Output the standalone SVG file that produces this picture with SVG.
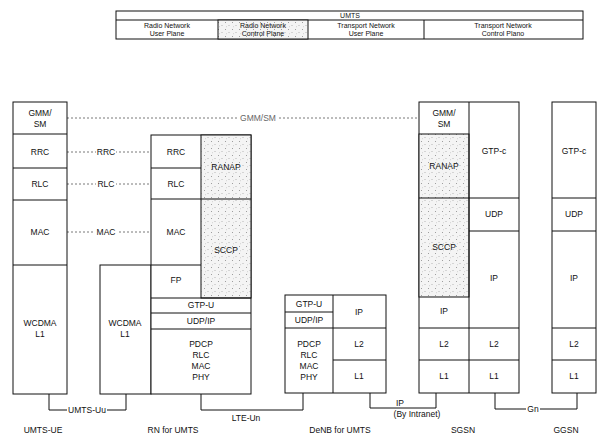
<svg xmlns="http://www.w3.org/2000/svg" width="598" height="439" viewBox="0 0 598 439">
<style>
.b{fill:#fff;stroke:#111;stroke-width:1}
.s{fill:url(#dots);stroke:#111;stroke-width:1}
.l{fill:none;stroke:#111;stroke-width:1}
.d{fill:none;stroke:#555;stroke-width:0.8;stroke-dasharray:2 2}
.w{fill:#fff}
text{font-family:"Liberation Sans",Arial,sans-serif;font-size:8.5px;fill:#111;text-anchor:middle}
.h{font-size:7px}
</style>
<defs>
<pattern id="dots" width="7" height="7" patternUnits="userSpaceOnUse">
<rect width="7" height="7" fill="#f4f4f4"/>
<circle cx="1.5" cy="1.5" r="0.45" fill="#444"/>
<circle cx="5" cy="4.5" r="0.4" fill="#666"/>
<circle cx="2.5" cy="5.8" r="0.35" fill="#888"/>
</pattern>
</defs>

<g id="header">
<rect class="b" x="116" y="11" width="467" height="28"/>
<line class="l" x1="116" y1="20" x2="583" y2="20"/>
<rect class="s" x="218" y="20" width="90" height="19"/>
<line class="l" x1="424" y1="20" x2="424" y2="39"/>
<text class="h" x="350" y="18">UMTS</text>
<text class="h" x="167" y="28">Radio Network</text><text class="h" x="167" y="36">User Plane</text>
<text class="h" x="263" y="28">Radio Network</text><text class="h" x="263" y="36">Control Plane</text>
<text class="h" x="366" y="28">Transport Network</text><text class="h" x="366" y="36">User Plane</text>
<text class="h" x="503" y="28">Transport Network</text><text class="h" x="503" y="36">Control Plano</text>
</g>

<g id="connectors">
<line class="d" x1="67" y1="118" x2="418" y2="118"/>
<rect class="w" x="239" y="113" width="38" height="10"/>
<text x="258" y="121" style="fill:#666">GMM/SM</text>
<line class="d" x1="67" y1="152" x2="150" y2="152"/>
<rect class="w" x="96" y="147" width="20" height="10"/>
<text x="106" y="155">RRC</text>
<line class="d" x1="67" y1="184" x2="150" y2="184"/>
<rect class="w" x="96" y="179" width="20" height="10"/>
<text x="106" y="187">RLC</text>
<line class="d" x1="67" y1="232" x2="150" y2="232"/>
<rect class="w" x="95" y="227" width="22" height="10"/>
<text x="106" y="235">MAC</text>
<polyline class="l" points="49,394 49,410 126,410 126,394"/>
<rect class="w" x="67" y="405" width="40" height="10"/>
<text x="87" y="413">UMTS-Uu</text>
<polyline class="l" points="201,394 201,410 303,410 303,393"/>
<text x="246" y="421">LTE-Un</text>
<polyline class="l" points="370,393 370,408 436,408 436,393"/>
<text x="400" y="406">IP</text>
<text x="417" y="417">(By Intranet)</text>
<polyline class="l" points="495,393 495,409 577,409 577,393"/>
<rect class="w" x="526" y="404" width="14" height="10"/>
<text x="533" y="412">Gn</text>
</g>

<g id="ue">
<rect class="b" x="13" y="102" width="54" height="292"/>
<line class="l" x1="13" y1="134" x2="67" y2="134"/>
<line class="l" x1="13" y1="168" x2="67" y2="168"/>
<line class="l" x1="13" y1="200" x2="67" y2="200"/>
<line class="l" x1="13" y1="265" x2="67" y2="265"/>
<text x="40" y="116">GMM/</text><text x="40" y="127">SM</text>
<text x="40" y="155">RRC</text>
<text x="40" y="187">RLC</text>
<text x="40" y="235">MAC</text>
<text x="40" y="326">WCDMA</text><text x="40" y="337">L1</text>
<text x="43" y="433">UMTS-UE</text>
</g>

<g id="rn">
<rect class="b" x="100" y="265" width="51" height="129"/>
<text x="125" y="326">WCDMA</text><text x="125" y="337">L1</text>
<rect class="b" x="151" y="135" width="100" height="259"/>
<rect class="s" x="201" y="135" width="50" height="163"/>
<line class="l" x1="201" y1="199" x2="251" y2="199"/>
<line class="l" x1="151" y1="168" x2="201" y2="168"/>
<line class="l" x1="151" y1="199" x2="201" y2="199"/>
<line class="l" x1="151" y1="265" x2="201" y2="265"/>
<line class="l" x1="151" y1="298" x2="251" y2="298"/>
<line class="l" x1="151" y1="313" x2="251" y2="313"/>
<line class="l" x1="151" y1="329" x2="251" y2="329"/>
<text x="176" y="155">RRC</text>
<text x="176" y="187">RLC</text>
<text x="176" y="235">MAC</text>
<text x="176" y="283">FP</text>
<text x="226" y="170">RANAP</text>
<text x="226" y="253">SCCP</text>
<text x="201" y="308">GTP-U</text>
<text x="201" y="324">UDP/IP</text>
<text x="201" y="347">PDCP</text><text x="201" y="358">RLC</text><text x="201" y="369">MAC</text><text x="201" y="380">PHY</text>
<text x="173" y="433">RN for UMTS</text>
</g>

<g id="denb">
<rect class="b" x="285" y="295" width="101" height="98"/>
<line class="l" x1="333" y1="295" x2="333" y2="393"/>
<line class="l" x1="285" y1="312" x2="333" y2="312"/>
<line class="l" x1="285" y1="328" x2="386" y2="328"/>
<line class="l" x1="333" y1="360" x2="386" y2="360"/>
<text x="309" y="307">GTP-U</text>
<text x="309" y="323">UDP/IP</text>
<text x="309" y="347">PDCP</text><text x="309" y="358">RLC</text><text x="309" y="369">MAC</text><text x="309" y="380">PHY</text>
<text x="359" y="315">IP</text>
<text x="359" y="347">L2</text>
<text x="359" y="379">L1</text>
<text x="340" y="433">DeNB for UMTS</text>
</g>

<g id="sgsn">
<rect class="b" x="419" y="102" width="100" height="291"/>
<rect class="s" x="419" y="134" width="50" height="163"/>
<line class="l" x1="419" y1="198" x2="469" y2="198"/>
<line class="l" x1="469" y1="102" x2="469" y2="393"/>
<line class="l" x1="469" y1="198" x2="519" y2="198"/>
<line class="l" x1="469" y1="231" x2="519" y2="231"/>
<line class="l" x1="419" y1="328" x2="519" y2="328"/>
<line class="l" x1="419" y1="360" x2="519" y2="360"/>
<text x="444" y="116">GMM/</text><text x="444" y="127">SM</text>
<text x="444" y="169">RANAP</text>
<text x="444" y="250">SCCP</text>
<text x="444" y="314">IP</text>
<text x="444" y="347">L2</text>
<text x="444" y="379">L1</text>
<text x="494" y="154">GTP-c</text>
<text x="494" y="217">UDP</text>
<text x="494" y="281">IP</text>
<text x="494" y="347">L2</text>
<text x="494" y="379">L1</text>
<text x="463" y="433">SGSN</text>
</g>

<g id="ggsn">
<rect class="b" x="552" y="102" width="44" height="291"/>
<line class="l" x1="552" y1="198" x2="596" y2="198"/>
<line class="l" x1="552" y1="231" x2="596" y2="231"/>
<line class="l" x1="552" y1="328" x2="596" y2="328"/>
<line class="l" x1="552" y1="360" x2="596" y2="360"/>
<text x="574" y="154">GTP-c</text>
<text x="574" y="217">UDP</text>
<text x="574" y="281">IP</text>
<text x="574" y="347">L2</text>
<text x="574" y="379">L1</text>
<text x="566" y="433">GGSN</text>
</g>
</svg>
